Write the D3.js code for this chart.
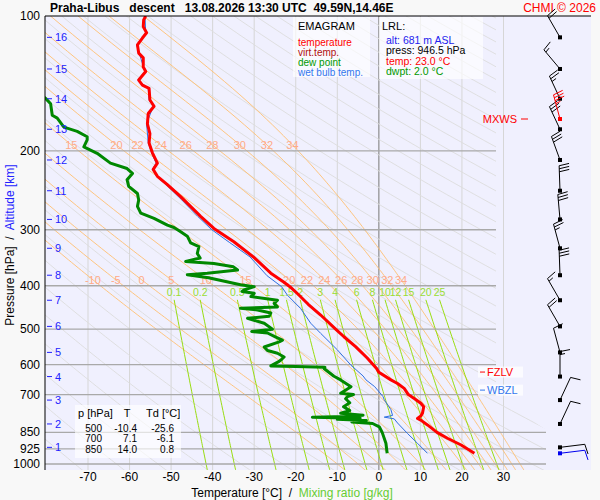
<!DOCTYPE html>
<html lang="en">
<head>
<meta charset="UTF-8">
<title>Praha-Libus emagram</title>
<script src="https://cdn.jsdelivr.net/npm/d3@7"></script>
<style>
  body { margin: 0; background: #f8f8f8; }
  svg text { font-family: 'Liberation Sans', Arial, sans-serif; white-space: pre; }
</style>
</head>
<body>
<svg id="chart" width="600" height="500"></svg>
<script>
// ---- sounding data: [pressure hPa, value °C] ----
const temperature = [[946.5,23.0],[907,19.8],[876,16.5],[850,14.0],[818,11.7],[798,10.1],[791,9.3],[781,10.1],[770,10.5],[745,10.8],[732,10.1],[715,8.6],[700,7.1],[678,6.1],[661,4.5],[649,2.9],[624,0.0],[611,-0.6],[580,-2.8],[547,-5.6],[520,-8.4],[500,-10.4],[465,-14.0],[440,-17.0],[419,-19.3],[402,-21.4],[392,-23.0],[375,-26.0],[345,-30.2],[319,-34.9],[298,-39.7],[280,-42.9],[253,-47.7],[238,-50.9],[228,-53.3],[220,-54.3],[213,-53.3],[202,-54.5],[192,-55.3],[183,-55.1],[174,-55.7],[165,-55.5],[159,-54.1],[154,-55.1],[145,-55.3],[142.6,-56.9],[139,-57.8],[133,-56.1],[130,-56.7],[124,-56.7],[121,-57.8],[116,-58.1],[112,-56.9],[109,-55.9],[105.6,-56.7],[102,-56.6],[100,-56.1]];
const dewpoint = [[946.5,2.0],[899,1.7],[850,0.8],[826,0.1],[812,-1.5],[806,-6.5],[800,-3.0],[795,-10.0],[790,-4.5],[786,-16.0],[783,-8.0],[778,-3.8],[770,-9.2],[760,-7.0],[745,-8.5],[730,-7.0],[715,-8.0],[707,-7.5],[700,-6.1],[695,-9.2],[672,-6.7],[649,-9.2],[637,-10.8],[612,-13.2],[608,-13.0],[606,-20.0],[604,-26.0],[590,-24.0],[586,-23.6],[577,-22.8],[566,-24.4],[558,-26.8],[548,-27.6],[534,-24.0],[529,-23.2],[521,-24.8],[510,-26.8],[506,-30.6],[500,-25.6],[485,-27.6],[473,-31.6],[468,-26.4],[460,-26.0],[453,-29.2],[449,-33.3],[446,-24.4],[438,-25.2],[431,-24.4],[423,-30.8],[416,-30.0],[412,-32.9],[409,-32.5],[402,-30.0],[398,-33.3],[384,-41.0],[378,-46.1],[375,-41.3],[369,-34.0],[363,-35.0],[357,-39.7],[353,-46.5],[347,-43.0],[339,-43.7],[327,-43.3],[321,-45.3],[310,-46.1],[303,-47.7],[296.6,-49.3],[293,-50.9],[283,-54.1],[275.5,-57.3],[266,-58.1],[257.5,-57.8],[249,-58.1],[240,-60.2],[232,-60.6],[224.6,-59.3],[219,-60.6],[213,-64.6],[202.5,-67.8],[196,-71.0],[189,-70.2],[186,-70.2],[181,-72.6],[177,-75.8],[169,-77.4],[166.5,-78.6],[157,-79.0],[152.7,-80.2],[148,-82.0]];
const wetBulb = [[946.5,11.7],[899,9.3],[855,6.9],[810,4.5],[793,3.7],[786,1.3],[779,3.3],[756,2.9],[719,1.3],[707,1.0],[684,-0.3],[672,-1.0],[649,-3.1],[636,-3.8],[602,-6.7],[556,-10.0],[511,-14.0],[485,-16.4],[450,-18.8],[420,-22.0],[402,-23.4],[380,-26.9],[345,-31.0],[320,-36.0],[300,-40.2],[280,-43.6],[257,-47.5],[240,-50.8],[228,-53.5],[220,-54.5],[213,-53.6],[202,-54.7],[192,-55.5],[174,-55.9],[159,-54.3],[154,-55.3],[145,-55.5],[139,-58.0],[133,-56.3],[116,-58.3],[109,-56.1],[100,-56.3]];

// altitude (km ASL) vs pressure, and winds at each km
const altitudeKm = [1,2,3,4,5,6,7,8,9,10,11,12,13,14,15,16];
const altitudeP  = [918,814,720,638,563.5,493,431,379,330,284.5,245.5,209.6,179,153,131.3,111.6];
const windDir    = [83,25,25,0,345,330,330,358,345,355,358,340,335,335,320,330];
const windSpd    = [10,10,10,15,10,20,15,30,25,30,30,30,30,25,15,20];
const surfaceWind = {p: 946.5, dir: 83, spd: 10};
const maxWind = {p: 169.8, dir: 345, spd: 35};
const levelMarks = [{name: "FZLV", p: 623.4, color: "#ff0000"}, {name: "WBZL", p: 684, color: "#3377ee"}];

// axes and background lines
const tempTicks = [-70,-60,-50,-40,-30,-20,-10,0,10,20,30];
const pressureTicks = [100,200,300,400,500,600,700,850,925,1000];
const moistThetaW = [-10,-5,0,5,10,15,20,22,24,26,28,30,32,34];
const moistUpperLabels = [15,20,22,24,26,28,30,32,34];
const mixingRatios = [0.1,0.2,0.5,1,1.5,2,3,4,6,8,10,12,15,20,25];
const tableP = [500,700,850];
const tableT = ["-10.4","7.1","14.0"];
const tableTd = ["-25.6","-6.1","0.8"];

const svg = d3.select("#chart");
const x = d3.scaleLinear().domain([-70, 30]).range([88, 503.5]);
const y = d3.scaleLog().domain([100, 1000]).range([16, 464]);
const L = 45, R = 591, T0 = 16, B = 470;

svg.append("rect").attr("width", 600).attr("height", 500).attr("fill", "#f8f8f8");
svg.append("rect").attr("x", L).attr("y", T0).attr("width", R - L).attr("height", B - T0).attr("fill", "#f0f0fe");

const defs = svg.append("defs");
defs.append("clipPath").attr("id", "gridClip").append("path")
    .attr("d", `M${L},${T0} H496 V395 L546,430 V${B} H${L} Z`);
defs.append("clipPath").attr("id", "plotClip").append("rect")
    .attr("x", L).attr("y", T0).attr("width", R - L).attr("height", B - T0);

const line = d3.line().x(d => x(d[1])).y(d => y(d[0]));

// isotherms
svg.append("g").selectAll("line").data(tempTicks).join("line")
    .attr("x1", d => x(d)).attr("x2", d => x(d)).attr("y1", T0).attr("y2", B)
    .attr("stroke", d => d === 0 ? "#8c8c8c" : "#d6d6d6").attr("stroke-width", d => d === 0 ? 1.2 : 1);

const grid = svg.append("g").attr("clip-path", "url(#gridClip)");

// dry adiabats
const thetas = d3.range(190, 590, 10);
const pLevels = d3.range(100, 1060, 10);
grid.append("g").selectAll("path").data(thetas).join("path")
    .attr("d", th => line(pLevels.map(p => [p, th * Math.pow(p / 1000, 0.2857) - 273.15])))
    .attr("fill", "none").attr("stroke", "#dcdcdc").attr("stroke-width", 0.9);

// pseudo-adiabats
function moistAdiabat(thw) {
  const Rd = 287.04, cp = 1005.7, Lv = 2.501e6, eps = 0.622;
  const grad = (t, p) => {
    const es = 6.112 * Math.exp(17.67 * (t - 273.15) / (t - 29.65));
    const rs = eps * es / (p - es);
    return (Rd * t + Lv * rs) / (p * (cp + Lv * Lv * rs * eps / (Rd * t * t)));
  };
  const down = [];
  let t = thw + 273.15;
  for (let p = 1000; p < 1050; p += 5) { const k = grad(t + grad(t, p) * 2.5, p + 2.5); t += k * 5; down.push([p + 5, t - 273.15]); }
  const up = [[1000, thw]];
  t = thw + 273.15;
  for (let p = 1000; p > 100; p -= 5) { const k = grad(t - grad(t, p) * 2.5, p - 2.5); t -= k * 5; up.push([p - 5, t - 273.15]); }
  return down.reverse().concat(up);
}
function tempAt(curve, p) {
  for (let i = 1; i < curve.length; i++) {
    const a = curve[i - 1], b = curve[i];
    if ((a[0] - p) * (b[0] - p) <= 0) return a[1] + (b[1] - a[1]) * (p - a[0]) / (b[0] - a[0]);
  }
  return null;
}
const moistCurves = moistThetaW.map(th => ({th, pts: moistAdiabat(th)}));
grid.append("g").selectAll("path").data(moistCurves).join("path")
    .attr("d", d => line(d.pts)).attr("fill", "none").attr("stroke", "#ffc070").attr("stroke-width", 0.9);

// mixing ratio lines
function mixT(w, p) { const e = w * p / (622 + w); const a = Math.log(e / 6.112); return 243.5 * a / (17.67 - a); }
const mixP = d3.range(430, 1060, 10);
grid.append("g").selectAll("path").data(mixingRatios).join("path")
    .attr("d", w => line(mixP.map(p => [p, mixT(w, p)])))
    .attr("fill", "none").attr("stroke", "#99dd11").attr("stroke-width", 1);

// isobars
svg.append("g").selectAll("line").data(pressureTicks.filter(p => p > 100)).join("line")
    .attr("x1", L).attr("x2", p => p >= 850 ? 546 : 496).attr("y1", p => y(p)).attr("y2", p => y(p))
    .attr("stroke", "#a9a9a9").attr("stroke-width", 1.4);

// labels for moist adiabats and mixing ratio
const lbl = svg.append("g").attr("text-anchor", "middle");
lbl.selectAll("text.ml").data(moistCurves).join("text").attr("class", "ml").attr("font-size", 11)
    .attr("x", d => x(tempAt(d.pts, 388))).attr("y", y(388) + 4).attr("fill", "#ffaa88").text(d => d.th);
lbl.selectAll("text.mu").data(moistCurves.filter(d => moistUpperLabels.includes(d.th))).join("text").attr("class", "mu").attr("font-size", 11)
    .attr("x", d => x(tempAt(d.pts, 194))).attr("y", y(194) + 4).attr("fill", "#ffaa88").text(d => d.th);
lbl.selectAll("text.mr").data(mixingRatios).join("text").attr("class", "mr").attr("font-size", 10.5)
    .attr("x", w => x(mixT(w, 430))).attr("y", y(430) - 4).attr("fill", "#99dd33").text(w => w);

// sounding curves (wet bulb under temperature)
const curves = svg.append("g").attr("clip-path", "url(#plotClip)");
curves.append("path").attr("d", line(dewpoint)).attr("fill", "none").attr("stroke", "#008800").attr("stroke-width", 3).attr("stroke-linejoin", "round");
curves.append("path").attr("d", line(wetBulb)).attr("fill", "none").attr("stroke", "#2f6fe0").attr("stroke-width", 1);
curves.append("path").attr("d", line(temperature)).attr("fill", "none").attr("stroke", "#ff0000").attr("stroke-width", 3).attr("stroke-linejoin", "round");

// frame
svg.append("line").attr("x1", L).attr("x2", R).attr("y1", T0).attr("y2", T0).attr("stroke", "#000");
svg.append("line").attr("x1", L).attr("x2", L).attr("y1", T0).attr("y2", B).attr("stroke", "#000");

// pressure labels
svg.append("g").selectAll("text").data(pressureTicks).join("text")
    .attr("x", 40).attr("y", p => y(p) + 4).attr("text-anchor", "end").attr("font-size", 12).text(p => p);

// altitude ticks
const alt = svg.append("g").attr("fill", "#2222ff");
alt.selectAll("line").data(altitudeKm).join("line")
    .attr("x1", 47).attr("x2", 52).attr("y1", (d, i) => y(altitudeP[i])).attr("y2", (d, i) => y(altitudeP[i]))
    .attr("stroke", "#2222ff");
alt.selectAll("text").data(altitudeKm).join("text")
    .attr("x", 55).attr("y", (d, i) => y(altitudeP[i]) + 4).attr("font-size", 11).text(d => d);

// temperature tick labels
svg.append("g").selectAll("text").data(tempTicks).join("text")
    .attr("x", d => x(d)).attr("y", 481).attr("text-anchor", "middle").attr("font-size", 12).text(d => d);

// axis titles
const xt = svg.append("text").attr("x", 292).attr("y", 497).attr("text-anchor", "middle").attr("font-size", 12);
xt.append("tspan").text("Temperature [°C]  /  ");
xt.append("tspan").attr("fill", "#66cc33").text("Mixing ratio [g/kg]");
const yt = svg.append("text").attr("transform", "translate(14,245) rotate(-90)").attr("text-anchor", "middle").attr("font-size", 12);
yt.append("tspan").text("Pressure [hPa]  /  ");
yt.append("tspan").attr("fill", "#2222ff").text("Altitude [km]");

// title
svg.append("text").attr("x", 50).attr("y", 12).attr("font-size", 12).attr("font-weight", "bold")
    .text("Praha-Libus   descent   13.08.2026 13:30 UTC  49.59N,14.46E");
svg.append("text").attr("x", 596).attr("y", 12).attr("text-anchor", "end").attr("font-size", 12).attr("fill", "#ff0000").text("CHMI © 2026");

// legend box
svg.append("rect").attr("x", 293).attr("y", 17).attr("width", 77).attr("height", 60).attr("fill", "#ffffff").attr("opacity", 0.65);
const legendItems = [["EMAGRAM", "#000", 11, 30], ["temperature", "#ff0000", 10, 45.5], ["virt.temp.", "#b01010", 10, 55.5], ["dew point", "#009900", 10, 65.5], ["wet bulb temp.", "#3377ee", 10, 75.5]];
svg.append("g").selectAll("text").data(legendItems).join("text")
    .attr("x", 298).attr("y", d => d[3]).attr("fill", d => d[1]).attr("font-size", d => d[2]).text(d => d[0]);

// LRL box
svg.append("rect").attr("x", 379).attr("y", 17).attr("width", 104).attr("height", 62).attr("fill", "#ffffff").attr("opacity", 0.65);
const lrlItems = [["LRL:", "#000", 382, 30, 11], ["alt: 681 m ASL", "#2222ee", 386, 43.5, 10.5], ["press: 946.5 hPa", "#000", 386, 54, 10.5], ["temp: 23.0 °C", "#ff0000", 386, 64.5, 10.5], ["dwpt: 2.0 °C", "#009900", 386, 75, 10.5]];
svg.append("g").selectAll("text").data(lrlItems).join("text")
    .attr("x", d => d[2]).attr("y", d => d[3]).attr("fill", d => d[1]).attr("font-size", d => d[4]).text(d => d[0]);

// level table
svg.append("rect").attr("x", 75).attr("y", 405).attr("width", 106).attr("height", 53).attr("fill", "#ffffff").attr("opacity", 0.65);
const tbl = svg.append("g");
tbl.append("text").attr("x", 78).attr("y", 417).attr("font-size", 11).text("p [hPa]");
tbl.append("text").attr("x", 127).attr("y", 417).attr("font-size", 11).attr("text-anchor", "middle").text("T");
tbl.append("text").attr("x", 146).attr("y", 417).attr("font-size", 11).text("Td [°C]");
tableP.forEach((p, i) => {
  const ty = 431.5 + i * 10.5;
  const row = tbl.append("g").attr("font-size", 10).attr("text-anchor", "end");
  row.append("text").attr("x", 102).attr("y", ty).text(p);
  row.append("text").attr("x", 137).attr("y", ty).text(tableT[i]);
  row.append("text").attr("x", 174).attr("y", ty).text(tableTd[i]);
});

// freezing / wet bulb zero marks
levelMarks.forEach(m => {
  const my = y(m.p);
  svg.append("rect").attr("x", 478).attr("y", my - 5.5).attr("width", 45).attr("height", 11).attr("fill", "#ffffff").attr("opacity", 0.75);
  svg.append("line").attr("x1", 480).attr("x2", 485).attr("y1", my).attr("y2", my).attr("stroke", m.color);
  svg.append("text").attr("x", 487).attr("y", my + 4).attr("font-size", 11).attr("fill", m.color).text(m.name);
});
svg.append("text").attr("x", 517).attr("y", y(maxWind.p) + 4).attr("text-anchor", "end").attr("font-size", 11).attr("fill", "#ff0000").text("MXWS");
svg.append("line").attr("x1", 521).attr("x2", 528).attr("y1", y(maxWind.p)).attr("y2", y(maxWind.p)).attr("stroke", "#ff0000");

// wind barbs
function barb(g, bx, by, dir, spd, color) {
  const a = dir * Math.PI / 180, len = 25;
  const dx = Math.sin(a), dy = -Math.cos(a);
  const rx = -dy, ry = dx;
  const ex = bx + dx * len, ey = by + dy * len;
  g.append("line").attr("x1", bx).attr("y1", by).attr("x2", ex).attr("y2", ey).attr("stroke", color);
  g.append("rect").attr("x", bx - 2).attr("y", by - 2).attr("width", 4).attr("height", 4).attr("fill", color);
  let s = spd, k = 0;
  while (s >= 5) {
    const bl = s >= 10 ? 10 : 5;
    const sx = ex - dx * k * 3, sy = ey - dy * k * 3;
    g.append("line").attr("x1", sx).attr("y1", sy)
        .attr("x2", sx + rx * bl + dx * bl * 0.2).attr("y2", sy + ry * bl + dy * bl * 0.2).attr("stroke", color);
    s -= bl; k++;
  }
}
const wind = svg.append("g").attr("stroke-width", 1);
altitudeKm.forEach((k, i) => barb(wind, 560, y(altitudeP[i]), windDir[i], windSpd[i], "#000"));
barb(wind, 560, y(surfaceWind.p), surfaceWind.dir, surfaceWind.spd, "#0000ee");
barb(wind, 560, y(maxWind.p), maxWind.dir, maxWind.spd, "#ff0000");
</script>
</body>
</html>
